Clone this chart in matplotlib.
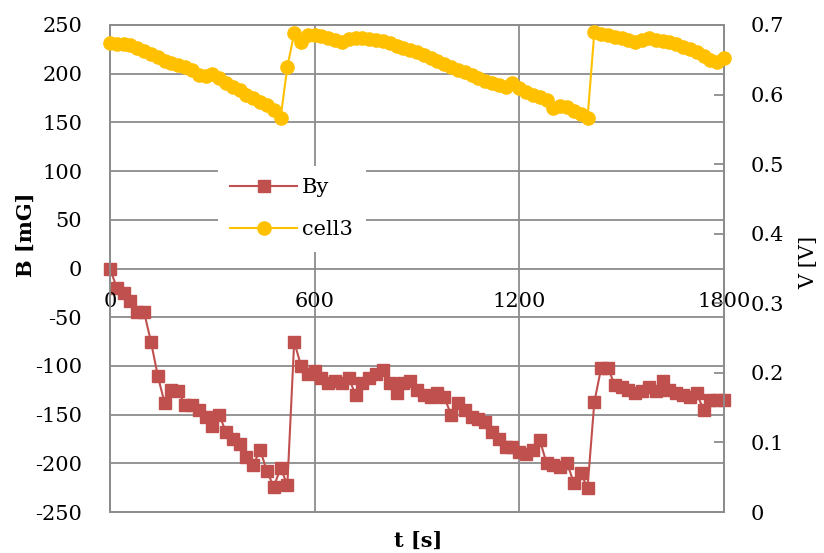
import numpy as np
import matplotlib
matplotlib.use("Agg")
import matplotlib.pyplot as plt

plt.rcParams['font.family'] = ['DejaVu Serif']
plt.rcParams['axes.unicode_minus'] = False

# time axis (s), one sample every 20 s
t = np.arange(0, 1801, 20)

# By [mG]
by = [0, -20, -25, -33, -45, -45, -75, -110, -138, -125,
      -126, -140, -140, -145, -152, -162, -150, -168, -175, -180,
      -193, -202, -186, -208, -224, -205, -222, -75, -100, -108,
      -105, -112, -118, -115, -118, -112, -130, -118, -112, -108,
      -104, -118, -128, -118, -116, -125, -130, -132, -128, -132,
      -150, -138, -145, -152, -155, -158, -168, -175, -183, -183,
      -188, -190, -186, -176, -200, -202, -204, -200, -220, -210,
      -225, -137, -102, -102, -120, -122, -125, -128, -126, -122,
      -126, -116, -125, -128, -130, -132, -128, -145, -135, -135,
      -135]

# cell3 [V]
cell3 = [0.674, 0.673, 0.672, 0.671, 0.667, 0.663, 0.659, 0.654, 0.648, 0.645,
         0.642, 0.640, 0.636, 0.628, 0.626, 0.630, 0.624, 0.617, 0.611, 0.606,
         0.600, 0.595, 0.589, 0.585, 0.578, 0.566, 0.640, 0.688, 0.676, 0.686,
         0.685, 0.684, 0.682, 0.678, 0.676, 0.680, 0.681, 0.681, 0.680, 0.679,
         0.677, 0.674, 0.670, 0.667, 0.664, 0.661, 0.657, 0.652, 0.648, 0.644,
         0.640, 0.636, 0.632, 0.628, 0.624, 0.620, 0.617, 0.614, 0.611, 0.616,
         0.610, 0.604, 0.600, 0.597, 0.592, 0.580, 0.584, 0.582, 0.576, 0.572,
         0.566, 0.690, 0.687, 0.685, 0.683, 0.681, 0.678, 0.676, 0.678, 0.681,
         0.679, 0.677, 0.675, 0.672, 0.669, 0.665, 0.661, 0.656, 0.649, 0.647,
         0.652]

xticks = [0, 600, 1200, 1800]
xtick_labels = ['0', '600', '1200', '1800']
yticks = list(range(-250, 251, 50))
ytick_labels = [str(v) for v in yticks]
vticks = [0, 0.1, 0.2, 0.3, 0.4, 0.5, 0.6, 0.7]
vtick_labels = ['0', '0.1', '0.2', '0.3', '0.4', '0.5', '0.6', '0.7']

RED = '#C0504D'
ORANGE = '#FFC000'
GRID = '#8C8C8C'
FS = 15

fig = plt.figure(figsize=(8.24, 5.53), dpi=100)
ax = fig.add_axes([0.1335, 0.0741, 0.7451, 0.8807])
ax2 = ax.twinx()

l1, = ax.plot(t, by, color=RED, lw=1.5, marker='s', ms=8.5, mec=RED, mfc=RED,
              label='By', clip_on=False, zorder=3)
l2, = ax2.plot(t, cell3, color=ORANGE, lw=1.5, marker='o', ms=9.5, mec=ORANGE,
               mfc=ORANGE, label='cell3', clip_on=False, zorder=3)

ax.set_xlim(0, 1800)
ax.set_ylim(-250, 250)
ax2.set_ylim(0, 0.7)

ax.set_xticks(xticks)
ax.set_xticklabels([])
ax.set_yticks(yticks)
ax.set_yticklabels(ytick_labels, fontsize=FS)
ax.tick_params(axis='x', length=0)
ax.tick_params(axis='y', length=0, pad=20)
ax.grid(True, color=GRID, lw=1.3)
ax.set_axisbelow(True)

ax2.set_yticks(vticks)
ax2.set_yticklabels(vtick_labels, fontsize=FS)
ax2.tick_params(axis='y', direction='in', length=7, width=1.3, color=GRID, pad=19)

for a in (ax, ax2):
    for s in a.spines.values():
        s.set_color(GRID)
        s.set_linewidth(1.3)

# x tick labels sit just under the zero line
for xv, lab in zip(xticks, xtick_labels):
    ax.annotate(lab, (xv, 0), xytext=(0, -24), textcoords='offset points',
                ha='center', va='center', fontsize=FS, annotation_clip=False)

ax.set_xlabel('t [s]', fontsize=FS, fontweight='bold', va='center')
ax.xaxis.set_label_coords(0.502, -0.06)
ax.set_ylabel('B [mG]', fontsize=FS, fontweight='bold', va='center')
ax.yaxis.set_label_coords(-0.137, 0.569)
ax2.set_ylabel('V [V]', fontsize=FS, rotation=90, va='center')
ax2.yaxis.set_label_coords(1.138, 0.513)

leg = ax2.legend([l1, l2], ['By', 'cell3'], loc='center',
                 bbox_to_anchor=(0.296, 0.623), fontsize=FS, frameon=True,
                 facecolor='white', edgecolor='none', framealpha=1,
                 fancybox=False, handlelength=3.2, handletextpad=0.25,
                 labelspacing=1.1, borderpad=0.6)

fig.savefig('out.png', dpi=100)
